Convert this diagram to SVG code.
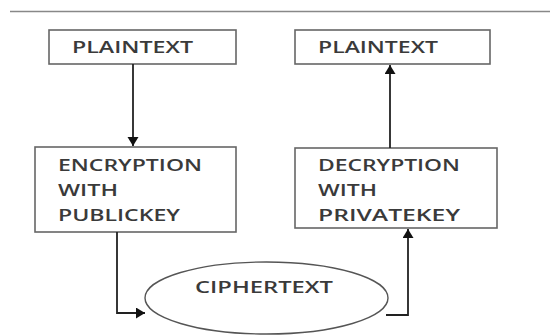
<svg xmlns="http://www.w3.org/2000/svg" width="550" height="335" viewBox="0 0 550 335">
<style>
.box{fill:#fff;stroke:#666;stroke-width:1.6}
.t{font-family:"Open Sans","Liberation Sans",sans-serif;font-size:16px;font-weight:600;fill:#3a3a3a}
.c{fill:none;stroke:#222;stroke-width:1.8}
</style>
<defs>
<marker id="ah" markerUnits="userSpaceOnUse" markerWidth="12" markerHeight="12" refX="9" refY="5.5" orient="auto">
<path d="M0,0 L9,5.5 L0,11 Z" fill="#111"/>
</marker>
</defs>
<rect width="550" height="335" fill="#fff"/>
<line x1="10" y1="11.5" x2="550" y2="11.5" stroke="#888" stroke-width="1.5"/>
<g id="plain-left">
<rect class="box" x="49" y="30" width="187" height="34"/>
<text class="t" x="72" y="53" textLength="121" lengthAdjust="spacingAndGlyphs">PLAINTEXT</text>
</g>
<g id="plain-right">
<rect class="box" x="295" y="30" width="195" height="34"/>
<text class="t" x="318" y="53" textLength="120" lengthAdjust="spacingAndGlyphs">PLAINTEXT</text>
</g>
<g id="encryption">
<rect class="box" x="35" y="147" width="201" height="85"/>
<text class="t" x="58" y="171" textLength="144" lengthAdjust="spacingAndGlyphs">ENCRYPTION</text>
<text class="t" x="58" y="196" textLength="60" lengthAdjust="spacingAndGlyphs">WITH</text>
<text class="t" x="58" y="221" textLength="122" lengthAdjust="spacingAndGlyphs">PUBLICKEY</text>
</g>
<g id="decryption">
<rect class="box" x="295" y="148" width="202" height="80"/>
<text class="t" x="318" y="171" textLength="142" lengthAdjust="spacingAndGlyphs">DECRYPTION</text>
<text class="t" x="318" y="196" textLength="59" lengthAdjust="spacingAndGlyphs">WITH</text>
<text class="t" x="318" y="221" textLength="142" lengthAdjust="spacingAndGlyphs">PRIVATEKEY</text>
</g>
<g id="ciphertext">
<ellipse cx="266.5" cy="298" rx="121.5" ry="36" fill="#fff" stroke="#555" stroke-width="1.4"/>
<text class="t" x="195" y="293" textLength="138" lengthAdjust="spacingAndGlyphs">CIPHERTEXT</text>
</g>
<g id="connectors">
<path class="c" d="M133,64 V146" marker-end="url(#ah)"/>
<path class="c" d="M117,232 V313 H145" marker-end="url(#ah)"/>
<path class="c" d="M386,315 H408 V229" marker-end="url(#ah)"/>
<path class="c" d="M390,148 V65" marker-end="url(#ah)"/>
</g>
</svg>
